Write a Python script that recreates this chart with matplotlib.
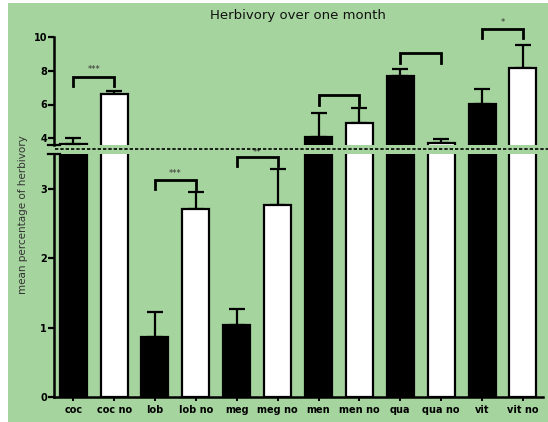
import matplotlib
matplotlib.use("Agg")
import matplotlib.pyplot as plt
from matplotlib.lines import Line2D
from matplotlib.patches import Rectangle
import numpy as np

categories = ["coc", "coc no", "lob", "lob no", "meg", "meg no",
              "men", "men no", "qua", "qua no", "vit", "vit no"]
means = [3.65, 6.6, 0.87, 2.71, 1.04, 2.76, 4.08, 4.9, 7.67, 3.69, 6.04, 8.19]
errors = [0.35, 0.22, 0.35, 0.24, 0.23, 0.52, 1.41, 0.88, 0.41, 0.29, 0.88, 1.32]
bar_colors = ["black", "white"] * 6

# brackets: (left index, right index, top value, leg bottom value, label, label value)
bracket_left = [0, 2, 4, 6, 8, 10]
bracket_right = [1, 3, 5, 7, 9, 11]
bracket_top = [7.65, 3.13, 3.45, 6.59, 9.07, 10.47]
bracket_bottom = [7.1, 2.99, 3.32, 6.0, 8.45, 9.92]
bracket_label = ["***", "***", "**", "", "", "*"]
bracket_label_y = [8.05, 3.22, 3.52, 0, 0, 10.83]

lower_ylim = (0, 3.5)
upper_ylim = (3.6, 10)
lower_ticks = [0, 1, 2, 3]
upper_ticks = [4, 6, 8, 10]

green = "#a6d49e"
W, H = 548, 422
fig = plt.figure(figsize=(W / 100, H / 100), dpi=100, facecolor=green)
# thin white border on left and top as in the reference
fig.patches.append(Rectangle((0, 0), 8 / W, 1, transform=fig.transFigure,
                             facecolor="white", edgecolor="none", zorder=-10))
fig.patches.append(Rectangle((0, 1 - 3 / H), 1, 3 / H, transform=fig.transFigure,
                             facecolor="white", edgecolor="none", zorder=-10))

left = 54 / W
right = 543 / W
ax_lo = fig.add_axes([left, 1 - 397 / H, right - left, (397 - 154) / H])
ax_hi = fig.add_axes([left, 1 - 145 / H, right - left, (145 - 37) / H])

x = np.arange(len(categories))
xlim = (-0.47, 11.49)

for ax, ylim in ((ax_lo, lower_ylim), (ax_hi, upper_ylim)):
    ax.set_facecolor("none")
    ax.bar(x, means, width=0.66, color=bar_colors, edgecolor="black",
           linewidth=1.6, zorder=2)
    ax.errorbar(x, means, yerr=[np.zeros(len(errors)), errors], fmt="none",
                ecolor="black", elinewidth=1.6, capsize=5.5, capthick=1.6, zorder=1)
    ax.set_xlim(*xlim)
    ax.set_ylim(*ylim)
    for s in ("top", "right"):
        ax.spines[s].set_visible(False)
    ax.spines["left"].set_linewidth(1.8)
    ax.tick_params(axis="y", direction="out", length=4, width=1.6,
                   labelsize=7, pad=1)
    for lab in ax.get_yticklabels():
        lab.set_fontweight("bold")

ax_lo.set_yticks(lower_ticks)
ax_hi.set_yticks(upper_ticks)
for ax in (ax_lo, ax_hi):
    for lab in ax.get_yticklabels():
        lab.set_fontweight("bold")

ax_hi.spines["bottom"].set_visible(False)
ax_hi.set_xticks([])
ax_lo.spines["bottom"].set_linewidth(1.8)
ax_lo.set_xticks(x)
ax_lo.set_xticklabels(categories, fontsize=7, fontweight="bold")
ax_lo.tick_params(axis="x", direction="out", length=3, width=1.4, pad=3)

# break caps on the left spine
for ax, yv in ((ax_lo, 1.0), (ax_hi, 0.0)):
    ax.plot([-0.012, 0.012], [yv, yv], transform=ax.transAxes, color="black",
            lw=1.6, clip_on=False, zorder=5)

# dotted break line
fig.add_artist(Line2D([55 / W, 1.0], [1 - 149 / H, 1 - 149 / H],
                      transform=fig.transFigure, color="black", lw=1.2,
                      linestyle=(0, (2, 1.2))))

# significance brackets
for l, r, top, bot, lab, ly in zip(bracket_left, bracket_right, bracket_top,
                                   bracket_bottom, bracket_label, bracket_label_y):
    ax = ax_hi if bot > lower_ylim[1] else ax_lo
    ax.plot([l, l, r, r], [bot, top, top, bot], color="black", lw=2,
            clip_on=False, solid_joinstyle="miter", zorder=4)
    if lab:
        ax.text((l + r) / 2, ly, lab, ha="center", va="center", fontsize=6,
                color="#333333", clip_on=False)

fig.text(298 / W, 1 - 15 / H, "Herbivory over one month", ha="center",
         va="center", fontsize=9.5, color="#111111")
fig.text(23 / W, 1 - 215 / H, "mean percentage of herbivory", rotation=90,
         ha="center", va="center", fontsize=7.5, color="#333333")

fig.savefig("out.png", dpi=100, facecolor=fig.get_facecolor())
